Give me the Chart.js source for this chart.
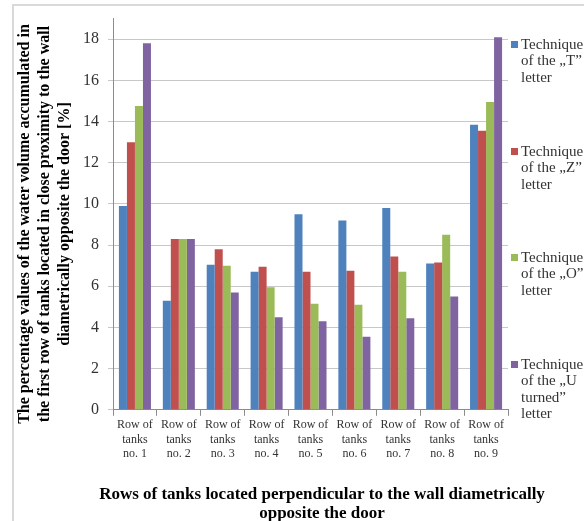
<!DOCTYPE html>
<html>
<head>
<meta charset="utf-8">
<script src="https://cdn.jsdelivr.net/npm/chart.js@4.4.0/dist/chart.umd.min.js"></script>
<style>
    body { margin: 0; background: #fff; }
    #wrap { position: relative; width: 584px; height: 521px; }
    #frame { position: absolute; left: 12px; top: 4px; right: -10px; bottom: -10px; border-left: 2px solid #d9d9d9; border-top: 2px solid #d9d9d9; }
    canvas { position: absolute; left: 0; top: 0; }
</style>
</head>
<body>
<div id="wrap">
    <div id="frame"></div>
    <canvas id="chartTanks" width="584" height="521"></canvas>
</div>
<script>
var categorias = [
    ["Row of", "tanks", "no. 1"], ["Row of", "tanks", "no. 2"], ["Row of", "tanks", "no. 3"],
    ["Row of", "tanks", "no. 4"], ["Row of", "tanks", "no. 5"], ["Row of", "tanks", "no. 6"],
    ["Row of", "tanks", "no. 7"], ["Row of", "tanks", "no. 8"], ["Row of", "tanks", "no. 9"]
];
var tecnicaT = [9.9, 5.3, 7.05, 6.7, 9.5, 9.2, 9.8, 7.1, 13.85];
var tecnicaZ = [13.0, 8.3, 7.8, 6.95, 6.7, 6.75, 7.45, 7.15, 13.55];
var tecnicaO = [14.75, 8.3, 7.0, 5.95, 5.15, 5.1, 6.7, 8.5, 14.95];
var tecnicaU = [17.8, 8.3, 5.7, 4.5, 4.3, 3.55, 4.45, 5.5, 18.1];
var legendas = [
    ["Technique", "of the \u201eT\u201d", "letter"],
    ["Technique", "of the \u201eZ\u201d", "letter"],
    ["Technique", "of the \u201eO\u201d", "letter"],
    ["Technique", "of the \u201eU", "turned\u201d", "letter"]
];
var tituloY = ["The percentage values of the water volume accumulated in",
               "the first row of tanks located in close proximity to the wall",
               "diametrically opposite the door [%]"];
var tituloX = ["Rows of tanks located perpendicular to the wall diametrically", "opposite the door"];
var yTicks = [0, 2, 4, 6, 8, 10, 12, 14, 16, 18];
var cores = ['#4F81BD', '#C0504D', '#9BBB59', '#8064A2'];

var serie = [tecnicaT, tecnicaZ, tecnicaO, tecnicaU];
var datasets = [];
for (var i = 0; i < serie.length; i++) {
    datasets.push({
        label: legendas[i].join(' '),
        data: serie[i],
        backgroundColor: cores[i],
        borderWidth: 0,
        categoryPercentage: 0.73,
        barPercentage: 1.0
    });
}

// legenda e titulos desenhados a mao (varias linhas, sem compressao)
var legendaLateral = {
    id: 'legendaLateral',
    afterDraw: function (chart) {
        var ctx = chart.ctx;
        var topos = [45, 152, 258, 365];
        ctx.save();
        ctx.font = '15px "Liberation Serif", serif';
        ctx.textBaseline = 'middle';
        for (var i = 0; i < legendas.length; i++) {
            ctx.fillStyle = cores[i];
            ctx.fillRect(511, topos[i] - 4, 7, 7);
            ctx.fillStyle = '#333';
            for (var j = 0; j < legendas[i].length; j++) {
                ctx.fillText(legendas[i][j], 521, topos[i] + j * 16.5);
            }
        }
        ctx.restore();

        ctx.save();
        ctx.fillStyle = '#000';
        ctx.textAlign = 'center';
        ctx.textBaseline = 'middle';
        ctx.font = 'bold 17px "Liberation Serif", serif';
        for (var k = 0; k < tituloX.length; k++) {
            ctx.fillText(tituloX[k], 322, 495 + k * 19);
        }
        ctx.translate(0, 224);
        ctx.rotate(-Math.PI / 2);
        ctx.font = 'bold 16px "Liberation Serif", serif';
        for (var m = 0; m < tituloY.length; m++) {
            ctx.fillText(tituloY[m], 0, 25 + m * 20);
        }
        ctx.restore();
    }
};

const config = {
    type: 'bar',
    data: {
        labels: categorias,
        datasets: datasets
    },
    options: {
        responsive: false,
        animation: false,
        layout: { padding: { left: 74, right: 76, top: 11, bottom: 58 } },
        plugins: {
            legend: { display: false },
            tooltip: { enabled: false }
        },
        scales: {
            x: {
                grid: { drawOnChartArea: false, drawTicks: true, tickLength: 6, color: '#8c8c8c' },
                border: { color: '#8c8c8c' },
                ticks: {
                    color: '#333',
                    font: { family: '"Liberation Serif", serif', size: 12, lineHeight: 1.2 },
                    maxRotation: 0,
                    padding: 2
                }
            },
            y: {
                min: 0,
                max: 19,
                afterBuildTicks: function (axis) {
                    axis.ticks = yTicks.map(function (v) { return { value: v }; });
                },
                grid: { color: '#c8c8c8', tickLength: 5 },
                border: { color: '#8c8c8c' },
                ticks: {
                    color: '#333',
                    font: { family: '"Liberation Serif", serif', size: 16 },
                    padding: 9
                }
            }
        }
    },
    plugins: [legendaLateral]
};

new Chart(document.getElementById('chartTanks'), config);
</script>
</body>
</html>
